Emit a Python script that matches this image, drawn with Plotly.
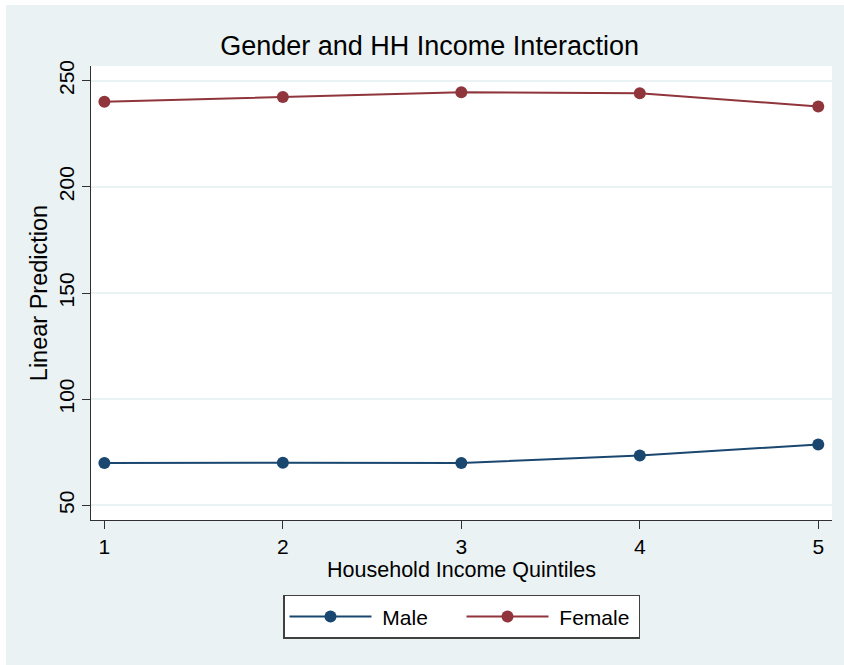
import plotly.graph_objects as go

# Predicted values by household income quintile and gender
quintiles = [1, 2, 3, 4, 5]
male_pred = [69.9, 70.1, 69.9, 73.5, 78.7]
female_pred = [240.1, 242.3, 244.5, 244.1, 237.8]
y_ticks = [50, 100, 150, 200, 250]

NAVY = "#1a476f"
MAROON = "#90353b"
BG = "#eaf2f3"
FONT = "Liberation Sans, Arial, sans-serif"
NBSP = "\u00a0"

fig = go.Figure()
fig.add_trace(go.Scatter(
    x=quintiles, y=male_pred, name=NBSP + "Male", mode="lines+markers",
    line=dict(color=NAVY, width=2), marker=dict(color=NAVY, size=12),
))
fig.add_trace(go.Scatter(
    x=quintiles, y=female_pred, name=NBSP + "Female", mode="lines+markers",
    line=dict(color=MAROON, width=2), marker=dict(color=MAROON, size=12),
))

# Thin white outer border along the top and left edges
PW, PH = 741, 454
fig.add_shape(type="rect", xref="paper", yref="paper", layer="above",
              x0=-91 / PW, x1=1 + 12 / PW, y0=1 + 61 / PH, y1=1 + 67 / PH,
              fillcolor="white", line=dict(width=0))
fig.add_shape(type="rect", xref="paper", yref="paper", layer="above",
              x0=-92 / PW, x1=-85 / PW, y0=-146 / PH, y1=1 + 67 / PH,
              fillcolor="white", line=dict(width=0))

fig.update_layout(
    width=844, height=665,
    margin=dict(l=91, r=12, t=66, b=145),
    paper_bgcolor=BG, plot_bgcolor="white",
    font=dict(family=FONT, size=21, color="black"),
    title=dict(text="Gender and HH Income Interaction", x=0.509, xanchor="center",
               y=0.931, yanchor="middle", font=dict(size=27, color="black")),
    showlegend=True,
    legend=dict(orientation="h", x=0.5, xanchor="center", y=-0.165, yanchor="top",
                bgcolor="white", bordercolor="#404040", borderwidth=1.5,
                itemwidth=82, entrywidth=80, font=dict(size=21)),
    xaxis=dict(range=[0.925, 5.077], tickvals=quintiles, showgrid=False, zeroline=False,
               showline=True, linecolor="#303030", linewidth=1.2,
               ticks="outside", ticklen=8, tickcolor="#303030", tickwidth=1.2,
               tickfont=dict(size=21),
               title=dict(text="Household Income Quintiles", standoff=2,
                          font=dict(size=21.5))),
    yaxis=dict(range=[43.1, 256.9], tickvals=y_ticks, showgrid=True, gridcolor=BG,
               gridwidth=1.5, zeroline=False, tickangle=-90,
               showline=True, linecolor="#303030", linewidth=1.2,
               ticks="outside", ticklen=8, tickcolor="#303030", tickwidth=1.2,
               tickfont=dict(size=21),
               title=dict(text="Linear Prediction", standoff=0, font=dict(size=23.5))),
)

fig.write_html("out.html")
